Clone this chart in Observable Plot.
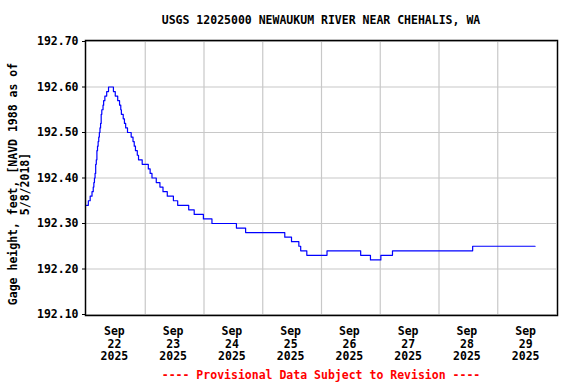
<!DOCTYPE html>
<html>
<head>
<meta charset="utf-8">
<script src="https://cdn.jsdelivr.net/npm/d3@7"></script>
<script src="https://cdn.jsdelivr.net/npm/@observablehq/plot@0.6"></script>
<style>
  body { margin: 0; background: #fff; }
  #wrap { position: relative; width: 576px; height: 384px; overflow: hidden; background: #fff;
          font-family: "DejaVu Sans Mono", "Liberation Mono", monospace; font-weight: bold; font-size: 11.5px; }
  #title { position: absolute; top: 13px; left: 66px; width: 510px; text-align: center; line-height: 14px; color: #000; white-space: nowrap; }
  #footer { position: absolute; top: 368px; left: 66px; width: 510px; text-align: center; line-height: 14px; color: #ff0000; white-space: nowrap; }
  #chart { position: absolute; top: 0; left: 0; }
</style>
</head>
<body>
<div id="wrap">
  <div id="chart"></div>
  <div id="title"></div>
  <div id="footer"></div>
</div>
<script>
// ---- data ----
const titleText = "USGS 12025000 NEWAUKUM RIVER NEAR CHEHALIS, WA";
const footerText = "---- Provisional Data Subject to Revision ----";
const yLabelLines = "Gage height, feet, [NAVD 1988 as of\n5/8/2018]";

// change points of the stepped gage-height record (local time, 2025)
const times = [
  "2025-09-22T00:00","2025-09-22T00:45","2025-09-22T01:30","2025-09-22T02:15","2025-09-22T02:45",
  "2025-09-22T03:00","2025-09-22T03:15","2025-09-22T03:30","2025-09-22T03:45","2025-09-22T04:00",
  "2025-09-22T04:15","2025-09-22T04:30","2025-09-22T04:45","2025-09-22T05:00","2025-09-22T05:15",
  "2025-09-22T05:30","2025-09-22T05:45","2025-09-22T06:00","2025-09-22T06:15","2025-09-22T06:45",
  "2025-09-22T07:00","2025-09-22T07:30","2025-09-22T08:15","2025-09-22T09:00","2025-09-22T11:00",
  "2025-09-22T11:45","2025-09-22T12:45","2025-09-22T13:30","2025-09-22T14:00","2025-09-22T14:15",
  "2025-09-22T15:00","2025-09-22T15:30","2025-09-22T16:00","2025-09-22T16:45","2025-09-22T18:15",
  "2025-09-22T19:00","2025-09-22T19:30","2025-09-22T20:00","2025-09-22T20:45","2025-09-22T21:15",
  "2025-09-22T22:45","2025-09-23T01:15","2025-09-23T02:00","2025-09-23T02:45","2025-09-23T04:30",
  "2025-09-23T06:00","2025-09-23T07:15","2025-09-23T09:00","2025-09-23T11:30","2025-09-23T13:15",
  "2025-09-23T17:45","2025-09-23T20:00","2025-09-23T23:45","2025-09-24T03:15","2025-09-24T13:15",
  "2025-09-24T17:00","2025-09-25T09:00","2025-09-25T11:45","2025-09-25T14:45","2025-09-25T15:30",
  "2025-09-25T18:00","2025-09-26T02:15","2025-09-26T16:00","2025-09-26T20:00","2025-09-27T00:15",
  "2025-09-27T05:00","2025-09-28T13:45","2025-09-29T15:15"
];
const gage = [
  192.34,192.35,192.36,192.37,192.38,
  192.39,192.40,192.41,192.43,192.44,
  192.46,192.47,192.48,192.49,192.50,
  192.51,192.52,192.54,192.55,192.56,
  192.57,192.58,192.59,192.60,192.59,
  192.58,192.57,192.56,192.55,192.54,
  192.53,192.52,192.51,192.50,192.49,
  192.48,192.47,192.46,192.45,192.44,
  192.43,192.42,192.41,192.40,192.39,
  192.38,192.37,192.36,192.35,192.34,
  192.33,192.32,192.31,192.30,192.29,
  192.28,192.27,192.26,192.25,192.24,
  192.23,192.24,192.23,192.22,192.23,
  192.24,192.25,192.25
];

const xStart = "2025-09-22T00:00";
const xEnd = "2025-09-30T00:00";
const tickMonth = "Sep";
const tickYear = "2025";
const tickDays = ["2025-09-22","2025-09-23","2025-09-24","2025-09-25","2025-09-26","2025-09-27","2025-09-28","2025-09-29"];
const gridDays = ["2025-09-23","2025-09-24","2025-09-25","2025-09-26","2025-09-27","2025-09-28","2025-09-29"];
const yTicks = [192.10, 192.20, 192.30, 192.40, 192.50, 192.60, 192.70];

// ---- build ----
const parse = d3.utcParse("%Y-%m-%dT%H:%M");
const data = times.map((t, i) => ({date: parse(t), value: gage[i]}));
const xTickDates = tickDays.map(d => parse(d + "T12:00"));
const xGridDates = gridDays.map(d => parse(d + "T00:00"));

document.getElementById("title").textContent = titleText;
document.getElementById("footer").textContent = footerText;

const chart = Plot.plot({
  width: 576,
  height: 384,
  marginLeft: 86,
  marginRight: 20,
  marginTop: 41,
  marginBottom: 70,
  style: {fontFamily: "'DejaVu Sans Mono', 'Liberation Mono', monospace", fontSize: "11.5px", fontWeight: "bold", color: "#000", background: "transparent"},
  x: {type: "utc", domain: [parse(xStart), parse(xEnd)]},
  y: {domain: [192.10, 192.70]},
  marks: [
    Plot.gridY(yTicks, {stroke: "#c8c8c8", strokeOpacity: 1, strokeWidth: 1.2}),
    Plot.gridX(xGridDates, {stroke: "#c8c8c8", strokeOpacity: 1, strokeWidth: 1.2}),
    Plot.line(data, {x: "date", y: "value", curve: "step-after", stroke: "#0000ff", strokeWidth: 1.2}),
    Plot.frame({stroke: "#000", strokeWidth: 1.5, inset: -1}),
    Plot.axisY(yTicks, {tickSize: 4, tickPadding: 4, tickFormat: d => d.toFixed(2), label: null, stroke: "#000"}),
    Plot.axisX(xTickDates, {tickSize: 0, tickPadding: 11, lineHeight: 1.12, dx: -1.5,
      tickFormat: d => `${tickMonth}\n${d.getUTCDate()}\n${tickYear}`, label: null}),
    Plot.text([yLabelLines], {frameAnchor: "left", rotate: -90, dx: -67, dy: 6, text: d => d,
      textAnchor: "middle", lineAnchor: "middle", lineHeight: 1.05, fontSize: 11.5, fill: "#000"})
  ]
});
document.getElementById("chart").appendChild(chart);
</script>
</body>
</html>
